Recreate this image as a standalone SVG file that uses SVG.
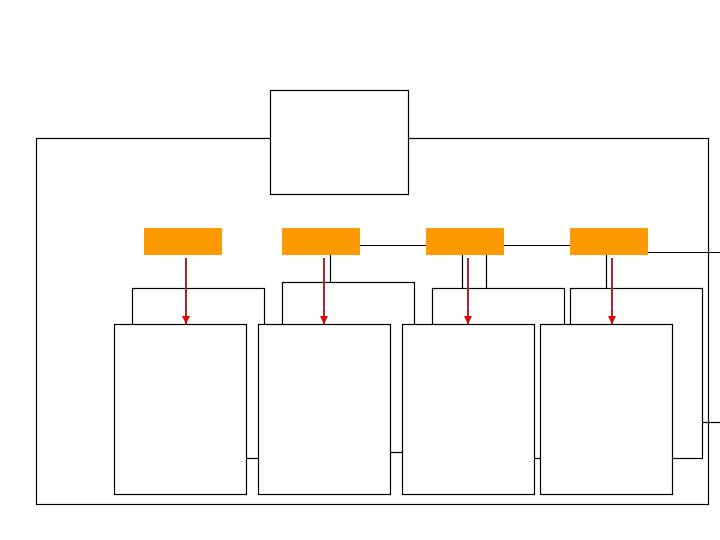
<svg xmlns="http://www.w3.org/2000/svg" width="720" height="540" viewBox="0 0 720 540">
<style>
.box{fill:#fff;stroke:#000;stroke-width:1.2}
.frame{fill:none;stroke:#000;stroke-width:1.2}
.org{fill:#FF9900;stroke:none}
.ln{fill:none;stroke:#000;stroke-width:1.2}
.arr{stroke:#A52A2A;stroke-width:2;fill:none;marker-end:url(#ah)}
</style>
<defs>
<marker id="ah" viewBox="0 0 10 10" refX="10" refY="5" markerWidth="4" markerHeight="4" orient="auto" markerUnits="strokeWidth">
<path d="M0,0 L10,5 L0,10 Z" fill="#E00000"/>
</marker>
</defs>
<rect width="720" height="540" fill="#fff"/>
<g id="frame"><rect class="frame" x="36.5" y="138.5" width="672" height="366"/></g>
<g id="top"><rect class="box" x="270.5" y="90.5" width="138" height="104"/></g>
<g id="connectors">
<line class="ln" x1="360" y1="245.5" x2="426" y2="245.5"/>
<line class="ln" x1="504" y1="245.5" x2="570" y2="245.5"/>
<line class="ln" x1="648" y1="252.5" x2="720" y2="252.5"/>
<line class="ln" x1="330.5" y1="255" x2="330.5" y2="282"/>
<line class="ln" x1="462.5" y1="255" x2="462.5" y2="288"/>
<line class="ln" x1="486.5" y1="255" x2="486.5" y2="288"/>
<line class="ln" x1="606.5" y1="255" x2="606.5" y2="288"/>
<line class="ln" x1="702" y1="422.5" x2="720" y2="422.5"/>
</g>
<g id="back1"><rect class="box" x="132.5" y="288.5" width="132" height="170"/></g>
<g id="back2"><rect class="box" x="282.5" y="282.5" width="132" height="170"/></g>
<g id="back3"><rect class="box" x="432.5" y="288.5" width="132" height="170"/></g>
<g id="back4"><rect class="box" x="570.5" y="288.5" width="132" height="170"/></g>
<g id="front1"><rect class="box" x="114.5" y="324.5" width="132" height="170"/></g>
<g id="front2"><rect class="box" x="258.5" y="324.5" width="132" height="170"/></g>
<g id="front3"><rect class="box" x="402.5" y="324.5" width="132" height="170"/></g>
<g id="front4"><rect class="box" x="540.5" y="324.5" width="132" height="170"/></g>
<g id="o1"><rect class="org" x="144" y="228" width="78" height="27"/></g>
<g id="o2"><rect class="org" x="282" y="228" width="78" height="27"/></g>
<g id="o3"><rect class="org" x="426" y="228" width="78" height="27"/></g>
<g id="o4"><rect class="org" x="570" y="228" width="78" height="27"/></g>
<g id="arrows">
<line class="arr" x1="186" y1="258" x2="186" y2="324"/>
<line class="arr" x1="324" y1="258" x2="324" y2="324"/>
<line class="arr" x1="468" y1="258" x2="468" y2="324"/>
<line class="arr" x1="612" y1="258" x2="612" y2="324"/>
</g>
</svg>
